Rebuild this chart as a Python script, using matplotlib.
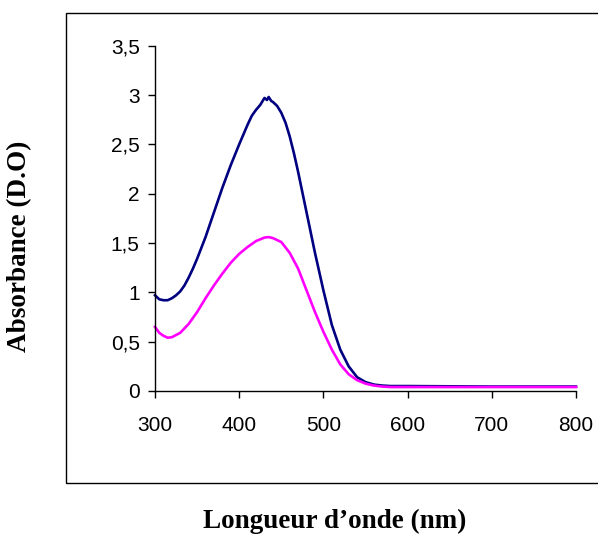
import matplotlib
matplotlib.use("Agg")
import matplotlib.pyplot
import matplotlib.patches
import matplotlib.ticker

# wavelength (nm) and absorbance
wl_blue = [300, 305, 310, 315, 320, 325, 330, 335, 340, 345, 350, 360, 370,
           380, 390, 400, 410, 415, 420, 425, 430, 433, 435, 438, 440, 445,
           450, 455, 460, 465, 470, 480, 490, 500, 510, 520, 530, 540, 550,
           560, 570, 580, 600, 700, 800]
abs_blue = [0.97, 0.93, 0.92, 0.92, 0.94, 0.97, 1.01, 1.07, 1.15, 1.24, 1.34,
            1.56, 1.81, 2.06, 2.29, 2.50, 2.70, 2.79, 2.85, 2.90, 2.97, 2.95,
            2.98, 2.94, 2.93, 2.89, 2.82, 2.72, 2.58, 2.41, 2.22, 1.81, 1.40,
            1.02, 0.67, 0.42, 0.25, 0.14, 0.09, 0.065, 0.055, 0.05, 0.05,
            0.045, 0.045]

wl_pink = [300, 305, 310, 315, 320, 330, 340, 350, 360, 370, 380, 390, 400,
           410, 420, 430, 435, 440, 450, 460, 470, 480, 490, 500, 510, 520,
           530, 540, 550, 560, 570, 580, 600, 700, 800]
abs_pink = [0.65, 0.59, 0.56, 0.54, 0.545, 0.59, 0.68, 0.80, 0.94, 1.07, 1.19,
            1.30, 1.39, 1.46, 1.52, 1.555, 1.56, 1.55, 1.51, 1.40, 1.24, 1.02,
            0.80, 0.60, 0.42, 0.27, 0.17, 0.11, 0.075, 0.055, 0.045, 0.04,
            0.04, 0.04, 0.04]

x_ticks = [300, 400, 500, 600, 700, 800]
y_ticks = [0, 0.5, 1, 1.5, 2, 2.5, 3, 3.5]

W, H = 598, 534

fig = matplotlib.pyplot.figure(figsize=(W / 100, H / 100), dpi=100)
ax = fig.add_axes([155 / W, 1 - 391 / H, (576 - 155) / W, (391 - 45.7) / H])

ax.plot(wl_blue, abs_blue, color="#000080", lw=1.9, clip_on=False)
ax.plot(wl_pink, abs_pink, color="#ff00ff", lw=1.9, clip_on=False)

ax.set_xlim(300, 800)
ax.set_ylim(0, 3.5)
ax.set_xticks(x_ticks)
ax.set_yticks(y_ticks)
ax.yaxis.set_major_formatter(
    matplotlib.ticker.FuncFormatter(lambda v, p: f"{v:g}".replace(".", ","))
)

for s in ["top", "right"]:
    ax.spines[s].set_visible(False)
for s in ["left", "bottom"]:
    ax.spines[s].set_linewidth(1.0)
    ax.spines[s].set_color("black")

ax.tick_params(direction="out", length=5, width=1, colors="black",
               labelsize=15, labelfontfamily="Liberation Sans")
ax.tick_params(axis="x", pad=13)
ax.tick_params(axis="y", pad=6)

# outer chart-area frame
fig.patches.append(matplotlib.patches.Rectangle(
    (66 / W, 1 - 483 / H), 1.0, (483 - 12.5) / H,
    transform=fig.transFigure, fill=False, ec="black", lw=1.0, clip_on=False,
))

fig.text(335 / W, 1 - 521 / H, "Longueur d\u2019onde (nm)", ha="center",
         va="center", fontsize=19.5, fontweight="bold", family="Liberation Serif")
fig.text(20 / W, 1 - 246 / H, "Absorbance (D.O)", ha="center", va="center",
         rotation=90, fontsize=19.5, fontweight="bold", family="Liberation Serif")

fig.savefig("out.png", dpi=100)
